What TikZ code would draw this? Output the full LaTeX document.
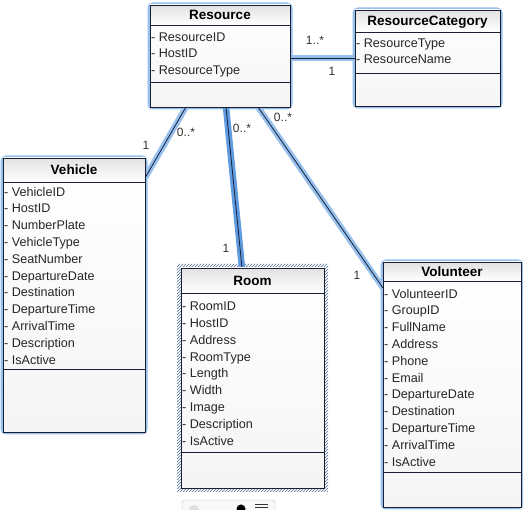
\documentclass[tikz,border=0pt]{standalone}
\usepackage{fontspec}
\setmainfont{Liberation Sans}
\usetikzlibrary{calc,patterns}
\definecolor{glow}{RGB}{150,192,238}
\definecolor{glowdark}{RGB}{95,155,225}
\definecolor{hatch}{RGB}{80,110,150}
\definecolor{ink}{RGB}{25,30,50}
\definecolor{titlegray}{RGB}{226,226,226}
\def\attrgap{11.5}
\newcommand\umlclass[9]{%
  % #1 name, #2 x, #3 y, #4 w, #5 h, #6 title line offset, #7 attr line offset, #8 title, #9 attrs
  \node[classbox, minimum width=#4, minimum height=#5, anchor=north west] (#1) at (#2,#3) {};
  \shade[top color=titlegray, bottom color=white] ($(#1.north west)+(0.5,0.5)$) rectangle ($(#1.north east)+(-0.5,#6)$);
  \draw[sepline] ($(#1.north west)+(0,#6)$) -- ($(#1.north east)+(0,#6)$);
  \draw[sepline] ($(#1.north west)+(0,#7)$) -- ($(#1.north east)+(0,#7)$);
  \node[titletext] (#1-title) at ($(#1.north)+(0,#6/2)$) {#8};
  \foreach \a [count=\i from 0] in {#9} {
    \node[attrtext] (#1-a\i) at ($(#1.north west)+(1,#6+\attrgap+16.8*\i)$) {- \a};
  }
  \draw[ink, line width=0.9pt] (#1.north west) rectangle (#1.south east);
}
\begin{document}
\begin{tikzpicture}[x=1pt,y=-1pt,
  classbox/.style={draw=ink, line width=0.9pt, inner sep=0pt, outer sep=0pt,
    top color=white, bottom color=gray!8},
  sepline/.style={draw=ink, line width=0.8pt},
  titletext/.style={font=\fontsize{13.5}{15}\selectfont\bfseries, inner sep=0pt, text height=9.5pt, text depth=0pt},
  attrtext/.style={font=\fontsize{12.6}{14}\selectfont, anchor=west, inner sep=0pt, text=black!85, text height=9pt, text depth=2.6pt},
  conn/.style={draw=ink, line width=0.8pt, preaction={draw=glow, line width=6pt}},
  connsel/.style={draw=ink, line width=0.8pt, preaction={draw=glowdark, line width=6.5pt}},
  mult/.style={font=\fontsize{12}{14}\selectfont, inner sep=0pt, text=black!80}]
\useasboundingbox (0,0) rectangle (523,510);
\fill[white] (0,0) rectangle (523,510);

% glows around selected boxes
\draw[glow, line width=5pt, rounded corners=3pt] (150,5) rectangle (290,107);
\draw[glow, line width=5pt, rounded corners=3pt] (355,10) rectangle (500,106);
\draw[glow, line width=5pt, rounded corners=3pt] (3,158) rectangle (145,432);
\draw[glow, line width=5pt, rounded corners=3pt] (383,262) rectangle (521,507);
% hatched frame of Room
\fill[pattern=north east lines, pattern color=hatch, even odd rule] (177,264) rectangle (328,492) (181,268) rectangle (324,488);

% connectors (drawn first so boxes cover the ends)
\coordinate (rv-s) at (186,107);
\coordinate (rr-s) at (226,107);
\coordinate (rvol-s) at (258,107);
\coordinate (rc-s) at (290,58);
\coordinate (rv-e) at (145,178);
\coordinate (rr-e) at (242,268);
\coordinate (rvol-e) at (383,288);
\coordinate (rc-e) at (355,58);
\draw[conn] (rv-s) -- (rv-e);
\draw[connsel] (rr-s) -- (rr-e);
\draw[conn] (rvol-s) -- (rvol-e);
\draw[conn] (rc-s) -- (rc-e);

\def\attrgap{13}
\umlclass{res}{150}{5}{140}{102}{20}{77}{Resource}{ResourceID,HostID,ResourceType}
\def\attrgap{12}
\umlclass{cat}{355}{10}{145}{96}{22}{63}{ResourceCategory}{ResourceType,ResourceName}
\def\attrgap{11}
\umlclass{veh}{3}{158}{142}{274}{24}{211}{Vehicle}{VehicleID,HostID,NumberPlate,VehicleType,SeatNumber,DepartureDate,Destination,DepartureTime,ArrivalTime,Description,IsActive}
\def\attrgap{14.5}
\umlclass{room}{181}{268}{143}{220}{25}{184}{Room}{RoomID,HostID,Address,RoomType,Length,Width,Image,Description,IsActive}
\def\attrgap{14}
\umlclass{vol}{383}{262}{138}{245}{19}{210}{Volunteer}{VolunteerID,GroupID,FullName,Address,Phone,Email,DepartureDate,Destination,DepartureTime,ArrivalTime,IsActive}

% multiplicities
\node[mult] (m1) at (315,40) {1..*};
\node[mult] (m2) at (332,71) {1};
\node[mult] (m3) at (146,145) {1};
\node[mult] (m4) at (186,132) {0..*};
\node[mult] (m5) at (242,128) {0..*};
\node[mult] (m6) at (226,248) {1};
\node[mult] (m7) at (283,117) {0..*};
\node[mult] (m8) at (357,275) {1};

% small toolbar at the bottom
\draw[gray!50, fill=gray!5, rounded corners=3pt] (182,500) rectangle (275,516);
\fill[gray!25] (194,510) circle (5);
\fill[black] (241,509) circle (4.5);
\draw[black!80, line width=0.8pt] (255,504) -- (268,504) (255,507.5) -- (268,507.5);
\end{tikzpicture}
\end{document}
